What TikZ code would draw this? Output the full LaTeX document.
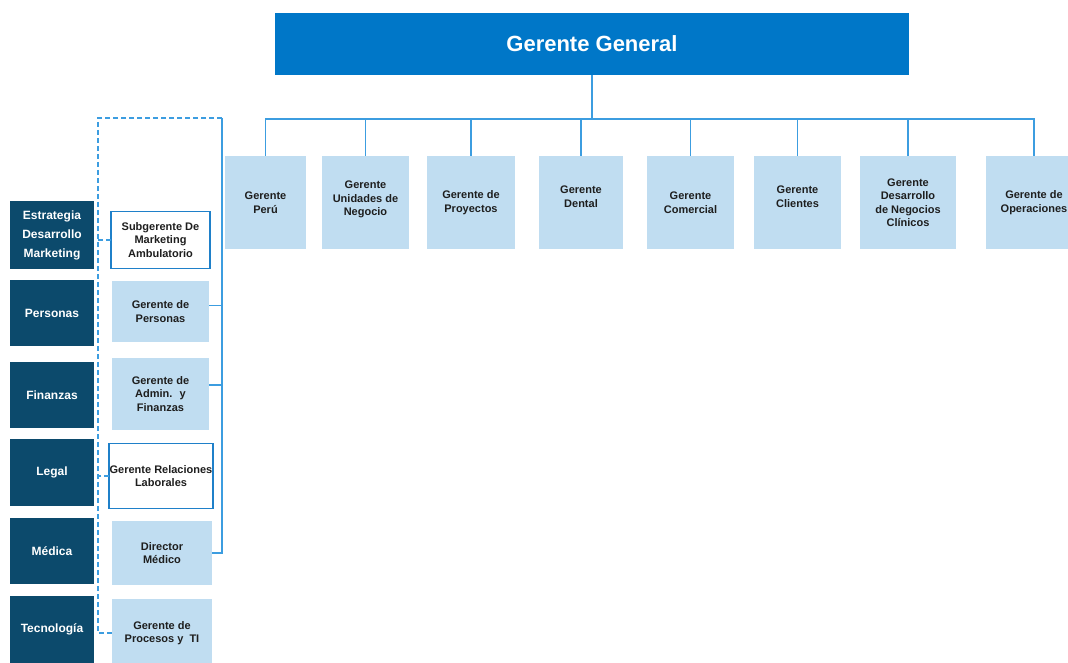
\documentclass[tikz,border=0pt]{standalone}
\usepackage{fontspec}
\setmainfont{Liberation Sans}
\usetikzlibrary{positioning}
\definecolor{hblue}{HTML}{0077C8}
\definecolor{hdark}{HTML}{0C4A6C}
\definecolor{hlight}{HTML}{C0DDF1}
\definecolor{hline}{HTML}{3C9DE0}
\definecolor{hborder}{HTML}{1F80C9}
\definecolor{htext}{HTML}{1E1E1E}
\tikzset{
box/.style = {%
    rectangle, inner sep=0pt, outer sep=0pt, align=center},
unit/.style = {%
    box, fill=hlight, text=htext, minimum width=#1, minimum height=93pt,
    font=\bfseries\fontsize{11}{13.5}\selectfont},
    unit/.default = 87pt,
area/.style = {%
    box, fill=hdark, text=white, minimum width=84pt,
    font=\bfseries\fontsize{12}{19}\selectfont},
mgr/.style = {%
    box, fill=hlight, text=htext, minimum width=99pt,
    font=\bfseries\fontsize{11}{13.5}\selectfont},
mgrw/.style = {%
    mgr, fill=white, draw=hborder, line width=1.5pt},
link/.style = {draw=hline, line width=1.6pt},
dlink/.style = {link, dash pattern=on 5pt off 3pt}
}

\begin{document}
\begin{tikzpicture}[x=1pt, y=-1pt]
        \useasboundingbox (0,0) rectangle (1068,663);
        \clip (0,0) rectangle (1068,663);

        % Gerente General
        \node[box,fill=hblue,text=white,minimum width=634pt,minimum height=62pt,
              font=\bfseries\fontsize{22}{24}\selectfont] (gg) at (592,44) {Gerente General};

        % First row of managers
        \node[unit=81pt] (peru) at (265.5,202.5) {Gerente\\Perú};
        \node[unit=87pt] (uneg) at (365.5,202.5) {Gerente\\Unidades de\\Negocio\\[-5.5pt]};
        \node[unit=88pt] (proy) at (471,202.5)   {Gerente de\\Proyectos};
        \node[unit=84pt] (dent) at (581,202.5)   {Gerente\\Dental\\[-1.5pt]};
        \node[unit=87pt] (come) at (690.5,202.5) {Gerente\\Comercial};
        \node[unit=87pt] (clie) at (797.5,202.5) {Gerente\\Clientes\\[-1.5pt]};
        \node[unit=96pt] (dnc)  at (908,202.5)   {Gerente\\Desarrollo\\de Negocios\\Clínicos};
        \node[unit=96pt] (oper) at (1034,202.5)  {Gerente de\\Operaciones};

        % Areas (left column)
        \node[area,minimum height=68pt] (aest) at (52,235)   {Estrategia\\Desarrollo\\Marketing};
        \node[area,minimum height=66pt] (aper) at (52,313)   {Personas};
        \node[area,minimum height=66pt] (afin) at (52,395)   {Finanzas};
        \node[area,minimum height=67pt] (aleg) at (52,472.5) {Legal};
        \node[area,minimum height=66pt] (amed) at (52,551)   {Médica};
        \node[area,minimum height=67pt] (atec) at (52,629.5) {Tecnología};

        % Managers of the areas
        \node[mgrw,minimum width=99pt,minimum height=57pt]  (mkt)    at (160.5,240)   {Subgerente De\\Marketing\\Ambulatorio};
        \node[mgr,minimum width=97pt,minimum height=61pt]   (pers)   at (160.5,311.5) {Gerente de\\Personas};
        \node[mgr,minimum width=97pt,minimum height=72pt]   (fin)    at (160.5,394)   {Gerente de\\Admin.~ y\\Finanzas};
        \node[mgrw,minimum width=104pt,minimum height=65pt] (rel)    at (161,476)     {Gerente Relaciones\\Laborales};
        \node[mgr,minimum width=100pt,minimum height=64pt]  (dirmed) at (162,553)     {Director\\Médico};
        \node[mgr,minimum width=100pt,minimum height=68pt]  (procti) at (162,633)     {Gerente de\\Procesos y~ TI};

        % Bus below Gerente General
        \path (gg.south) ++(0,44) coordinate (bus);
        \draw[link] (gg.south) -- (bus);
        \foreach \n in {peru,uneg,proy,dent,come,clie,dnc,oper}
            \draw[link] (\n.north) |- (bus);

        % Solid spine (staff line)
        \coordinate (lspine) at (222,118);
        \draw[link] (lspine) |- (dirmed.east);
        \draw[link] ([yshift=6pt]pers.east) -- ([yshift=6pt]pers.east -| lspine);
        \draw[link] ([yshift=9pt]fin.east) -- ([yshift=9pt]fin.east -| lspine);

        % Dashed spine (functional line)
        \coordinate (dtop) at (98,118);
        \draw[dlink] (lspine) -- (dtop) |- (procti.west);
        \draw[dlink] (mkt.west) -- (mkt.west -| dtop);
        \draw[dlink] (rel.west) -- (rel.west -| dtop);

    \end{tikzpicture}
\end{document}
